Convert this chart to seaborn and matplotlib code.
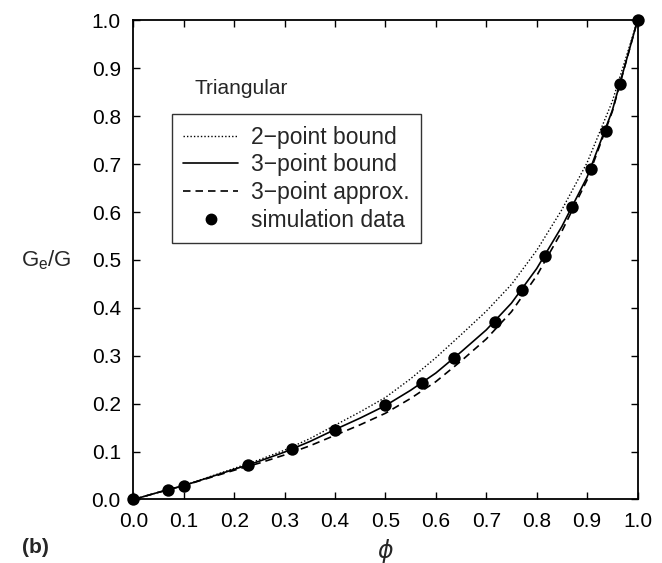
import numpy as np
import pandas as pd
import matplotlib
matplotlib.use('Agg')
import matplotlib.pyplot as plt
import seaborn as sns
from matplotlib.lines import Line2D
from matplotlib.legend_handler import HandlerLine2D

# curves, every 0.05 in phi
phi = [0.0, 0.05, 0.10, 0.15, 0.20, 0.25, 0.30, 0.35, 0.40, 0.45, 0.50,
       0.55, 0.60, 0.65, 0.70, 0.75, 0.80, 0.85, 0.90, 0.95, 1.0]
two_point = [0.0, 0.015, 0.029, 0.047, 0.065, 0.083, 0.103, 0.127, 0.155, 0.183, 0.213,
             0.252, 0.296, 0.344, 0.393, 0.449, 0.520, 0.605, 0.703, 0.831, 1.0]
three_point = [0.0, 0.015, 0.029, 0.046, 0.063, 0.080, 0.099, 0.121, 0.146, 0.170, 0.196,
               0.228, 0.264, 0.308, 0.354, 0.410, 0.482, 0.570, 0.673, 0.812, 1.0]
three_approx = [0.0, 0.015, 0.029, 0.045, 0.061, 0.076, 0.093, 0.112, 0.134, 0.156, 0.180,
                0.211, 0.246, 0.289, 0.335, 0.392, 0.467, 0.560, 0.667, 0.810, 1.0]

# simulation points
sim_phi = [0.0, 0.068, 0.10, 0.228, 0.315, 0.40, 0.50, 0.573, 0.637, 0.718,
           0.77, 0.817, 0.871, 0.907, 0.937, 0.965, 1.0]
sim_g = [0.0, 0.020, 0.028, 0.072, 0.105, 0.146, 0.197, 0.243, 0.296, 0.371,
         0.437, 0.509, 0.611, 0.690, 0.770, 0.867, 1.0]

ticks = [0.0, 0.1, 0.2, 0.3, 0.4, 0.5, 0.6, 0.7, 0.8, 0.9, 1.0]
tick_labels = ['0.0', '0.1', '0.2', '0.3', '0.4', '0.5', '0.6', '0.7', '0.8', '0.9', '1.0']

sns.set_style('ticks')
plt.rcParams['font.family'] = ['Liberation Sans', 'DejaVu Sans']

df = pd.DataFrame({'phi': phi, 'two': two_point, 'three': three_point, 'approx': three_approx})
sim = pd.DataFrame({'phi': sim_phi, 'g': sim_g})

fig, ax = plt.subplots(figsize=(6.62, 5.63), dpi=100)
fig.subplots_adjust(left=0.2014, right=0.9630, bottom=0.1128, top=0.9636)

dotted = (0, (1, 1.5))
dashed = (0, (4.5, 3))
sns.lineplot(data=df, x='phi', y='two', ax=ax, color='black', lw=1.0, linestyle=dotted)
sns.lineplot(data=df, x='phi', y='three', ax=ax, color='black', lw=1.2)
sns.lineplot(data=df, x='phi', y='approx', ax=ax, color='black', lw=1.2, linestyle=dashed)
sns.scatterplot(data=sim, x='phi', y='g', ax=ax, color='black', s=80, edgecolor='black',
                linewidth=0, zorder=5, clip_on=False)

ax.set_xlim(0, 1)
ax.set_ylim(0, 1)
ax.set_xticks(ticks)
ax.set_yticks(ticks)
ax.set_xticklabels(tick_labels)
ax.set_yticklabels(tick_labels)
ax.tick_params(direction='in', length=5, width=1, top=True, right=True,
               labelsize=15, colors='black')
ax.tick_params(axis='x', pad=9)
ax.tick_params(axis='y', pad=9)
for sp in ax.spines.values():
    sp.set_linewidth(1.3)
    sp.set_color('black')

ax.set_xlabel(r'$\phi$', fontsize=17, labelpad=4)
ax.set_ylabel(r'$\mathregular{G_e/G}$', fontsize=16, rotation=0)
ax.yaxis.set_label_coords(-0.173, 0.5)
ax.yaxis.label.set_va('center')

ax.text(0.122, 0.859, 'Triangular', fontsize=15, va='center', ha='left')


class RightMarker(HandlerLine2D):
    def get_xdata(self, legend, xdescent, ydescent, width, height, fontsize):
        xdata, _ = super().get_xdata(legend, xdescent, ydescent, width, height, fontsize)
        return xdata, [-xdescent + width - 4]


handles = [
    Line2D([], [], color='black', lw=1.0, linestyle=dotted),
    Line2D([], [], color='black', lw=1.2),
    Line2D([], [], color='black', lw=1.2, linestyle=dashed),
    Line2D([], [], color='black', lw=0, marker='o', markersize=7.5),
]
labels = ['2\u2212point bound', '3\u2212point bound', '3\u2212point approx.', 'simulation data']
leg = ax.legend(handles, labels, loc='upper left', bbox_to_anchor=(0.076, 0.804),
                borderaxespad=0, frameon=True, fancybox=False, edgecolor='black',
                fontsize=16.5, handlelength=2.4, handletextpad=0.55, labelspacing=0.2,
                borderpad=0.5, numpoints=1,
                handler_map={handles[3]: RightMarker()})
leg.get_frame().set_linewidth(1.0)

fig.text(0.033, 0.027, '(b)', fontsize=15, fontweight='bold', ha='left', va='center')

plt.savefig('out.png', dpi=100)
